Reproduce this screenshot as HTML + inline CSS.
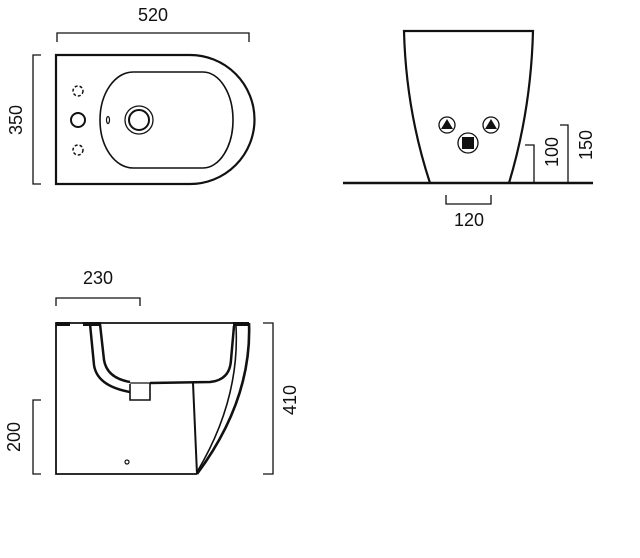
<!DOCTYPE html>
<html><head><style>
html,body{margin:0;padding:0;background:#fff;width:640px;height:558px;overflow:hidden}
text{font-family:"Liberation Sans",sans-serif;font-size:18px;fill:#111}
</style></head><body>
<svg width="640" height="558" viewBox="0 0 640 558" xmlns="http://www.w3.org/2000/svg">
<g fill="none" stroke="#111" stroke-width="1.3">
<polyline points="57,42 57,33 249,33 249,42"/>
<polyline points="41,55 33,55 33,184 41,184"/>
</g>
<text x="153" y="21" text-anchor="middle">520</text>
<text transform="translate(22,120) rotate(-90)" text-anchor="middle">350</text>
<g fill="none" stroke="#111">
<path d="M56,55 L190,55 A64.5,64.5 0 0 1 190,184 L56,184 Z" stroke-width="2.2"/>
<path d="M133,72 L203,72 A30,48 0 0 1 203,168 L133,168 A33,48 0 0 1 133,72 Z" stroke-width="1.6"/>
<circle cx="139" cy="120" r="14" stroke-width="1.3"/>
<circle cx="139" cy="120" r="10" stroke-width="2"/>
<circle cx="78" cy="120" r="7" stroke-width="2"/>
<circle cx="78" cy="91" r="5" stroke-width="1.5" stroke-dasharray="3,2"/>
<circle cx="78" cy="150" r="5" stroke-width="1.5" stroke-dasharray="3,2"/>
<ellipse cx="108" cy="120" rx="1.5" ry="3.5" stroke-width="1.2"/>
</g>
<g fill="none" stroke="#111">
<line x1="343" y1="183" x2="593" y2="183" stroke-width="2.5"/>
<path d="M430,183 Q406,110 404,31 L533,31 Q531,110 509,183" stroke-width="2.2"/>
<polyline points="525,145 534,145 534,183" stroke-width="1.3"/>
<polyline points="560,125 568,125 568,183" stroke-width="1.3"/>
<polyline points="446,195 446,204 491,204 491,195" stroke-width="1.3"/>
<circle cx="447" cy="125" r="8" stroke-width="1.3"/>
<circle cx="491" cy="125" r="8" stroke-width="1.3"/>
<circle cx="468" cy="143" r="10" stroke-width="1.3"/>
</g>
<polygon points="447,119 453,129 441,129" fill="#111"/>
<polygon points="491,119 497,129 485,129" fill="#111"/>
<rect x="462" y="137" width="12" height="12" fill="#111"/>
<text x="469" y="226" text-anchor="middle">120</text>
<text transform="translate(558,152) rotate(-90)" text-anchor="middle">100</text>
<text transform="translate(592,145) rotate(-90)" text-anchor="middle">150</text>
<g fill="none" stroke="#111">
<polyline points="56,306 56,298 140,298 140,306" stroke-width="1.3"/>
<polyline points="263,323 273,323 273,474 263,474" stroke-width="1.3"/>
<polyline points="41,400 33,400 33,474 41,474" stroke-width="1.3"/>
<polyline points="249,323 56,323 56,474 197,474" stroke-width="1.8"/>
<path d="M249,323 Q252,400 197,474" stroke-width="2.6"/>
<path d="M236,326 Q240,400 197,472" stroke-width="1.6"/>
<line x1="193" y1="383" x2="197" y2="474" stroke-width="2"/>
<path d="M90,324 L94,365 Q97,386 130,392" stroke-width="2.5"/>
<path d="M100,324 L104,360 Q107,378 130,382" stroke-width="2.5"/>
<path d="M150,383 L210,382 Q230,380 231,360 L234,326" stroke-width="2.5"/>
<polyline points="130,384 130,400 150,400 150,383" stroke-width="1.6"/>
<line x1="130" y1="383" x2="152" y2="383" stroke-width="1.3"/>
<circle cx="127" cy="462" r="2" stroke-width="1.2"/>
</g>
<rect x="56" y="322" width="14" height="4" fill="#111"/>
<rect x="83" y="322" width="18" height="4" fill="#111"/>
<rect x="233" y="322" width="16" height="4" fill="#111"/>
<text x="98" y="284" text-anchor="middle">230</text>
<text transform="translate(296,400) rotate(-90)" text-anchor="middle">410</text>
<text transform="translate(20,437) rotate(-90)" text-anchor="middle">200</text>
</svg>
</body></html>
